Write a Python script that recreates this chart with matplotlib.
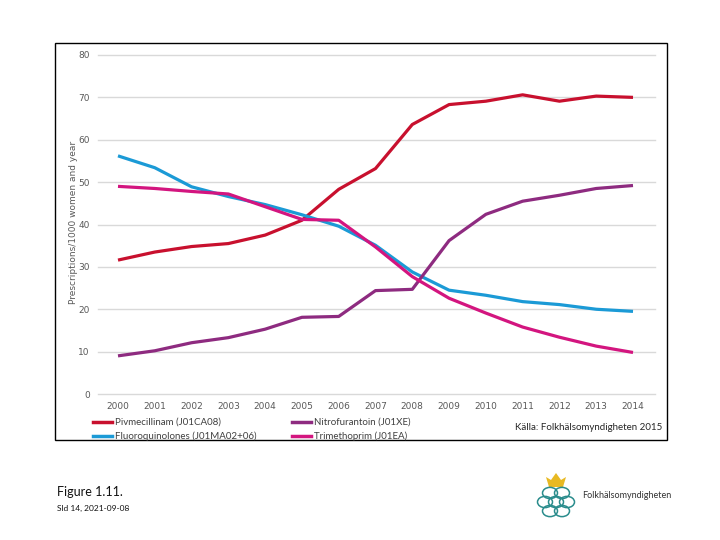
import matplotlib
matplotlib.use("Agg")
import matplotlib.pyplot as plt
from matplotlib.patches import Rectangle, Circle, Polygon
from matplotlib.lines import Line2D

years = list(range(2000, 2015))
pivmecillinam = [31.6, 33.5, 34.8, 35.5, 37.5, 41.0, 48.3, 53.2, 63.6, 68.3, 69.1, 70.6, 69.1, 70.3, 70.0]
fluoroquinolones = [56.2, 53.4, 48.9, 46.6, 44.7, 42.3, 39.6, 35.1, 28.8, 24.5, 23.3, 21.8, 21.1, 20.0, 19.5]
nitrofurantoin = [9.0, 10.2, 12.1, 13.3, 15.3, 18.1, 18.3, 24.4, 24.7, 36.2, 42.4, 45.5, 46.9, 48.5, 49.2]
trimethoprim = [49.0, 48.5, 47.8, 47.2, 44.2, 41.2, 41.0, 34.7, 27.7, 22.6, 19.1, 15.8, 13.4, 11.3, 9.8]

series_labels = ["Pivmecillinam (J01CA08)", "Fluoroquinolones (J01MA02+06)",
                 "Nitrofurantoin (J01XE)", "Trimethoprim (J01EA)"]
series_colors = ["#C8102E", "#1B9AD6", "#8E2B80", "#D3157F"]
yticks = [0, 10, 20, 30, 40, 50, 60, 70, 80]

W, H = 720, 540
fig = plt.figure(figsize=(7.2, 5.4), dpi=100)
fig.patch.set_facecolor("white")

# frame
fig.patches.append(Rectangle((55 / W, 1 - 440 / H), (667 - 55) / W, (440 - 43) / H,
                             transform=fig.transFigure, fill=False, edgecolor="black",
                             linewidth=1.0))

ax = fig.add_axes([98 / W, 1 - 394 / H, 557 / W, (394 - 55) / H])
ax.set_xlim(2000 - 20 / 36.79, 2014 + 22 / 36.79)
ax.set_ylim(0, 80)

data = [pivmecillinam, fluoroquinolones, nitrofurantoin, trimethoprim]
for vals, col, lab in zip(data, series_colors, series_labels):
    ax.plot(years, vals, color=col, linewidth=2.3, label=lab, solid_capstyle="butt",
            solid_joinstyle="round", zorder=3)

ax.set_yticks(yticks)
ax.set_xticks(years)
ax.set_xticklabels([str(y) for y in years])
ax.grid(axis="y", color="#D9D9D9", linewidth=1.0, zorder=0)
ax.set_axisbelow(True)
for s in ax.spines.values():
    s.set_visible(False)
ax.tick_params(axis="both", length=0, labelsize=6.5, labelcolor="#595959")
ax.tick_params(axis="y", pad=6)
ax.tick_params(axis="x", pad=6)
for line in ax.get_ygridlines():
    line.set_clip_on(False)

fig.text(74 / W, 1 - 222 / H, "Prescriptions/1000 women and year", rotation=90,
         ha="center", va="center", fontsize=6.5, color="#595959")

handles = [Line2D([0], [0], color=c, linewidth=2.5) for c in series_colors]
leg = fig.legend(handles, series_labels, ncol=2, loc="upper left",
                 bbox_to_anchor=(93 / W, 1 - 418 / H), frameon=False,
                 prop={"family": "Lato", "size": 7}, handlelength=2.0, handletextpad=0.3,
                 columnspacing=3.6, labelspacing=0.45, borderaxespad=0, borderpad=0)
for t in leg.get_texts():
    t.set_color("#404040")

fig.text(662 / W, 1 - 428 / H, "Källa: Folkhälsomyndigheten 2015", ha="right",
         va="center", fontsize=7, family="Lato", color="#262626")

fig.text(57 / W, 1 - 492 / H, "Figure 1.11.", ha="left", va="center",
         fontsize=9, family="Lato", color="#111111")
fig.text(57 / W, 1 - 508 / H, "Sld 14, 2021-09-08", ha="left", va="center",
         fontsize=6, family="Lato", color="#111111")

# simple logo approximation
crown = Polygon([(549 / W, 1 - 487 / H), (546 / W, 1 - 477 / H), (551 / W, 1 - 480 / H),
                 (556 / W, 1 - 473 / H), (561 / W, 1 - 480 / H), (566 / W, 1 - 477 / H),
                 (563 / W, 1 - 487 / H)], closed=True, transform=fig.transFigure,
                facecolor="#E8B923", edgecolor="none")
fig.patches.append(crown)
ring_centres = [(550, 493), (562, 493), (545, 502), (567, 502), (550, 511), (562, 511), (556, 502)]
for cx, cy in ring_centres:
    fig.patches.append(Circle((cx / W, 1 - cy / H), 7.5 / W, transform=fig.transFigure,
                              fill=False, edgecolor="#2A8C8C", linewidth=1.1))
fig.text(582 / W, 1 - 496 / H, "Folkhälsomyndigheten", ha="left", va="center",
         fontsize=6.5, family="Lato", color="#333333")

fig.savefig("out.png", dpi=100, facecolor="white")
